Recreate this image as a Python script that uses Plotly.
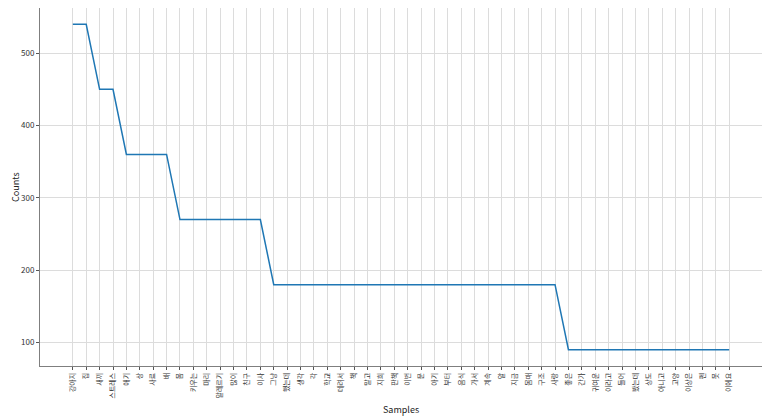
import plotly.graph_objects as go

samples = ["강아지", "집", "새끼", "스트레스", "애기", "상", "사료", "배", "몸", "키우는",
           "마리", "알레르기", "많이", "친구", "이사", "그냥", "했는데", "생각", "각", "학교",
           "데려서", "책", "말고", "지희", "판책", "이번", "문", "아기", "부터", "음식",
           "가서", "계속", "알", "지금", "몸매", "구조", "사랑", "좋은", "간가", "귀여운",
           "이라고", "들어", "봤는데", "상도", "아니고", "고양", "이상은", "펜", "못", "이에요"]
counts = [540, 540, 450, 450, 360, 360, 360, 360, 270, 270,
          270, 270, 270, 270, 270, 180, 180, 180, 180, 180,
          180, 180, 180, 180, 180, 180, 180, 180, 180, 180,
          180, 180, 180, 180, 180, 180, 180, 90, 90, 90,
          90, 90, 90, 90, 90, 90, 90, 90, 90, 90]
y_ticks = [100, 200, 300, 400, 500]

idx = list(range(len(samples)))
n = len(samples)
ymin, ymax = min(counts), max(counts)
pad = (ymax - ymin) * 0.05

font = "Noto Sans CJK KR"
fig = go.Figure()
fig.add_trace(go.Scatter(x=idx, y=counts, mode="lines",
                         line=dict(color="#1f77b4", width=1.5),
                         hoverinfo="skip"))
fig.update_layout(
    width=762, height=408,
    margin=dict(l=32, r=8, t=0, b=50),
    paper_bgcolor="white", plot_bgcolor="white",
    showlegend=False,
    font=dict(family=font, size=8, color="#333333"),
    xaxis=dict(
        range=[-0.05 * (n - 1), (n - 1) * 1.05],
        tickmode="array", tickvals=idx, ticktext=samples,
        tickangle=-90, tickfont=dict(size=7, family=font, color="#333333"),
        showgrid=True, gridcolor="#dcdcdc", gridwidth=1,
        showline=True, linecolor="#7f7f7f", linewidth=1, mirror=True,
        ticks="outside", ticklen=3, tickcolor="#555555",
        zeroline=False, automargin=False,
    ),
    yaxis=dict(
        range=[ymin - pad, ymax + pad],
        tickmode="array", tickvals=y_ticks, ticktext=[str(v) for v in y_ticks],
        tickfont=dict(size=8, family=font, color="#333333"),
        showgrid=True, gridcolor="#dcdcdc", gridwidth=1,
        showline=True, linecolor="#7f7f7f", linewidth=1, mirror=True,
        ticks="outside", ticklen=3, tickcolor="#555555",
        zeroline=False, automargin=False,
    ),
    annotations=[
        dict(text="Samples", xref="paper", yref="paper", x=0.5, y=0,
             yshift=-43, yanchor="middle", showarrow=False,
             font=dict(size=9, family=font, color="#222222")),
        dict(text="Counts", xref="paper", yref="paper", x=0, y=0.5,
             xshift=-25, xanchor="center", textangle=-90, showarrow=False,
             font=dict(size=9, family=font, color="#222222")),
    ],
)
fig.write_html("out.html")
